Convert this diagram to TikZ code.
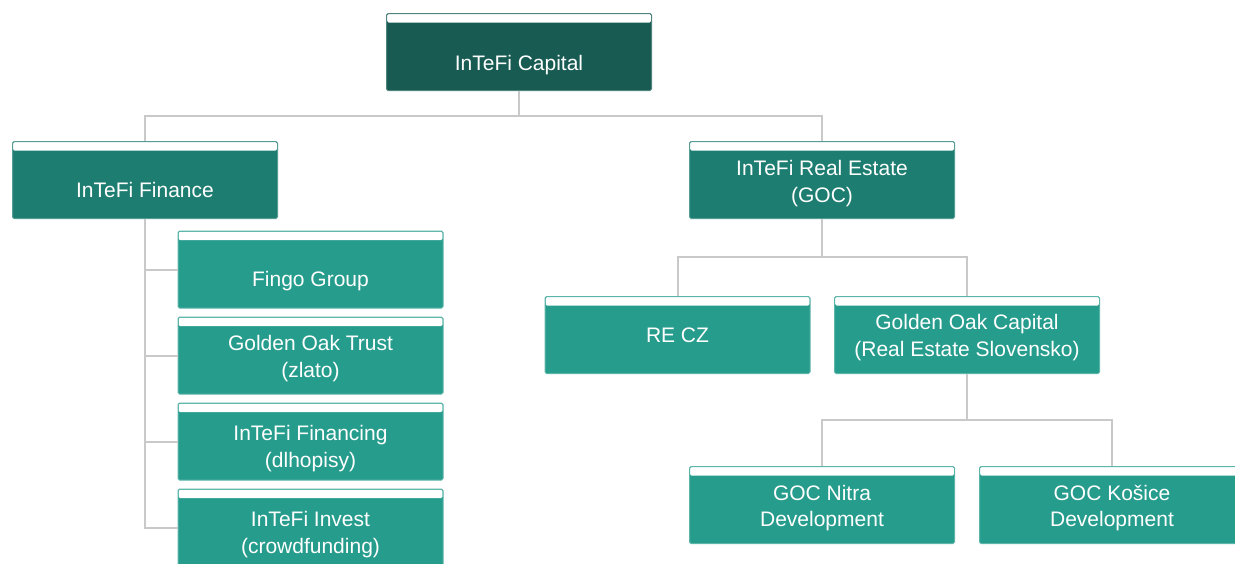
\documentclass[tikz,border=0pt]{standalone}
\usepackage{fontspec}
\setmainfont{Liberation Sans}
\definecolor{cdark}{HTML}{175B52}
\definecolor{cmid}{HTML}{1E7D71}
\definecolor{clight}{HTML}{269C8D}
\definecolor{lgrey}{HTML}{C9C9C9}
\begin{document}
\begin{tikzpicture}[x=1pt,y=-1pt,
  orgbox/.style={draw=#1!75!white, fill=#1, line width=1pt, minimum width=265pt, minimum height=77pt,
    inner sep=0pt, rounded corners=1.5pt,
    path picture={\fill[white] ([xshift=0.5pt,yshift=-0.5pt]path picture bounding box.north west)
      rectangle ([xshift=-0.5pt,yshift=-9pt]path picture bounding box.north east);}},
  lbl/.style={text=white, font=\fontsize{21}{26}\selectfont, inner sep=0pt, anchor=base},
  conn/.style={draw=lgrey, line width=2pt}]
\useasboundingbox (0,0) rectangle (1235,563);

% boxes
\node[orgbox=cdark] (cap) at (519,52) {};
\node[orgbox=cmid] (fin) at (145,180) {};
\node[orgbox=cmid] (re) at (822,180) {};
\node[orgbox=clight] (fingo) at (310.5,269.5) {};
\node[orgbox=clight] (trust) at (310.5,355.5) {};
\node[orgbox=clight] (fing) at (310.5,441.5) {};
\node[orgbox=clight] (inv) at (310.5,527.5) {};
\node[orgbox=clight] (recz) at (677.5,335) {};
\node[orgbox=clight] (goc) at (967,335) {};
\node[orgbox=clight] (nitra) at (822,505) {};
\node[orgbox=clight] (kos) at (1112,505) {};

% connectors
\coordinate (j1) at (519,116);
\coordinate (j2) at (822,257);
\coordinate (j3) at (967,420);
\draw[conn] (cap.south) -- (j1) -| (fin.north);
\draw[conn] (j1) -| (re.north);
\draw[conn] (fin.south) |- (fingo.west);
\draw[conn] (fin.south) |- (trust.west);
\draw[conn] (fin.south) |- (fing.west);
\draw[conn] (fin.south) |- (inv.west);
\draw[conn] (re.south) -- (j2) -| (recz.north);
\draw[conn] (j2) -| (goc.north);
\draw[conn] (goc.south) -- (j3) -| (nitra.north);
\draw[conn] (j3) -| (kos.north);

% labels
\node[lbl] (capL) at (519,70) {InTeFi Capital};
\node[lbl] (finL) at (145,197.5) {InTeFi Finance};
\node[lbl] (reL1) at (822,175.5) {InTeFi Real Estate};
\node[lbl] (reL2) at (822,202) {(GOC)};
\node[lbl] (fingoL) at (310.5,286.5) {Fingo Group};
\node[lbl] (trustL1) at (310.5,350.5) {Golden Oak Trust};
\node[lbl] (trustL2) at (310.5,377) {(zlato)};
\node[lbl] (fingL1) at (310.5,440.5) {InTeFi Financing};
\node[lbl] (fingL2) at (310.5,467) {(dlhopisy)};
\node[lbl] (invL1) at (310.5,526) {InTeFi Invest};
\node[lbl] (invL2) at (310.5,553) {(crowdfunding)};
\node[lbl] (reczL) at (677.5,342.5) {RE CZ};
\node[lbl] (gocL1) at (967,329.5) {Golden Oak Capital};
\node[lbl] (gocL2) at (967,356) {(Real Estate Slovensko)};
\node[lbl] (nitraL1) at (822,500) {GOC Nitra};
\node[lbl] (nitraL2) at (822,526) {Development};
\node[lbl] (kosL1) at (1112,500) {GOC Košice};
\node[lbl] (kosL2) at (1112,526) {Development};
\end{tikzpicture}
\end{document}
